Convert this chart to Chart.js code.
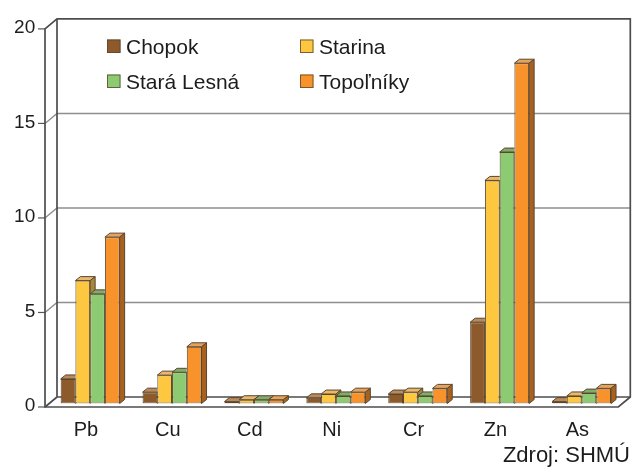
<!DOCTYPE html>
<html>
<head>
<meta charset="utf-8">
<script src="https://cdn.jsdelivr.net/npm/chart.js@4/dist/chart.umd.min.js"></script>
<style>
  html, body { margin: 0; padding: 0; background: #fff; }
  canvas { display: block; }
</style>
</head>
<body>
<canvas id="c" width="633" height="467"></canvas>
<script>
// Heavy-metal concentrations per station
const categories = ['Pb', 'Cu', 'Cd', 'Ni', 'Cr', 'Zn', 'As'];
const chopok     = [1.3, 0.6, 0.1, 0.3, 0.5, 4.3, 0.1];
const starina    = [6.5, 1.5, 0.2, 0.5, 0.6, 11.8, 0.4];
const staraLesna = [5.8, 1.65, 0.2, 0.4, 0.4, 13.3, 0.55];
const topolniky  = [8.8, 3.0, 0.2, 0.6, 0.8, 18.0, 0.8];
const seriesNames = ['Chopok', 'Starina', 'Stará Lesná', 'Topoľníky'];
const yTicks = [0, 5, 10, 15, 20];
const sourceNote = 'Zdroj: SHMÚ';

// Face colours for the pseudo-3D columns
const frontColors = ['#8d5a2b', '#fdc73f', '#8dcb72', '#f7932a'];
const topColors   = ['#b98a5c', '#e9b86c', '#80ab68', '#e4a45e'];
const sideColors  = ['#5f3c1c', '#a8883a', '#5a8848', '#a8621e'];
const edgeColor   = '#5a4630';

const FONT = '"Liberation Sans", Arial, Helvetica, sans-serif';

// Depth of the box: the bar plane sits between the front edge and the back wall
const BACK  = { dx: 7.8,  dy: -6.5 };
const FRONT = { dx: -4.2, dy: 3.5 };
const BAR_DEPTH = { dx: 5, dy: 4 };

const frame3d = {
  id: 'frame3d',
  beforeDatasetsDraw(chart) {
    const { ctx, chartArea: a, scales: { y } } = chart;
    const L = a.left, R = a.right;
    const y0 = y.getPixelForValue(0), yTop = y.getPixelForValue(20);
    ctx.save();
    ctx.lineCap = 'butt';
    // back-wall gridlines and their left-wall continuation
    ctx.strokeStyle = '#8e8e8e';
    ctx.lineWidth = 1.4;
    yTicks.filter(v => v > 0 && v < 20).forEach(v => {
      const yy = y.getPixelForValue(v);
      ctx.beginPath();
      ctx.moveTo(L + FRONT.dx, yy + FRONT.dy);
      ctx.lineTo(L + BACK.dx, yy + BACK.dy);
      ctx.lineTo(R + BACK.dx, yy + BACK.dy);
      ctx.stroke();
    });
    // tick dashes on the front axis
    ctx.strokeStyle = '#555';
    ctx.lineWidth = 1.2;
    yTicks.forEach(v => {
      const yy = y.getPixelForValue(v) + FRONT.dy;
      ctx.beginPath();
      ctx.moveTo(L + FRONT.dx - 7, yy);
      ctx.lineTo(L + FRONT.dx, yy);
      ctx.stroke();
    });
    // outer frame
    ctx.strokeStyle = '#4d4d4d';
    ctx.lineWidth = 1.7;
    ctx.beginPath();
    ctx.moveTo(L + FRONT.dx, y0 + FRONT.dy);
    ctx.lineTo(L + FRONT.dx, yTop + FRONT.dy);
    ctx.lineTo(L + BACK.dx, yTop + BACK.dy);
    ctx.lineTo(R + BACK.dx, yTop + BACK.dy);
    ctx.lineTo(R + BACK.dx, y0 + BACK.dy);
    ctx.lineTo(R + FRONT.dx, y0 + FRONT.dy);
    ctx.closePath();
    ctx.stroke();
    ctx.beginPath();
    ctx.moveTo(L + BACK.dx, yTop + BACK.dy);
    ctx.lineTo(L + BACK.dx, y0 + BACK.dy);
    ctx.lineTo(R + BACK.dx, y0 + BACK.dy);
    ctx.moveTo(L + FRONT.dx, y0 + FRONT.dy);
    ctx.lineTo(L + BACK.dx, y0 + BACK.dy);
    ctx.stroke();
    ctx.restore();
  }
};

const columns3d = {
  id: 'columns3d',
  afterDatasetsDraw(chart) {
    const { ctx } = chart;
    const metas = chart.data.datasets.map((_, i) => chart.getDatasetMeta(i));
    const n = metas.length;
    ctx.save();
    ctx.lineWidth = 1;
    ctx.strokeStyle = edgeColor;
    ctx.lineJoin = 'round';
    categories.forEach((_, j) => {
      for (let i = 0; i < n; i++) {
        const el = metas[i].data[j];
        const { x, y, base, width } = el.getProps(['x', 'y', 'base', 'width'], true);
        const l = x - width / 2, r = x + width / 2;
        ctx.save();
        // the next column's front face hides whatever lies behind it
        if (i + 1 < n) {
          const nx = metas[i + 1].data[j].getProps(['x', 'y', 'base', 'width'], true);
          ctx.beginPath();
          ctx.rect(0, 0, chart.width, chart.height);
          ctx.rect(nx.x - nx.width / 2, nx.y, nx.width, nx.base - nx.y);
          ctx.clip('evenodd');
        }
        // top face
        ctx.beginPath();
        ctx.moveTo(l, y);
        ctx.lineTo(l + BAR_DEPTH.dx, y - BAR_DEPTH.dy);
        ctx.lineTo(r + BAR_DEPTH.dx, y - BAR_DEPTH.dy);
        ctx.lineTo(r, y);
        ctx.closePath();
        ctx.fillStyle = topColors[i];
        ctx.fill();
        ctx.stroke();
        // side face
        ctx.beginPath();
        ctx.moveTo(r, y);
        ctx.lineTo(r + BAR_DEPTH.dx, y - BAR_DEPTH.dy);
        ctx.lineTo(r + BAR_DEPTH.dx, base - BAR_DEPTH.dy);
        ctx.lineTo(r, base);
        ctx.closePath();
        ctx.fillStyle = sideColors[i];
        ctx.fill();
        ctx.stroke();
        ctx.restore();
      }
    });
    ctx.restore();
  }
};

const legendAndNote = {
  id: 'legendAndNote',
  afterDraw(chart) {
    const { ctx } = chart;
    const cols = [107, 300];
    const rows = [53.5, 88.5];
    // two columns, two rows: Chopok / Starina, Stará Lesná / Topoľníky
    const slots = [[0, 0], [1, 0], [0, 1], [1, 1]];
    ctx.save();
    ctx.font = '21px ' + FONT;
    ctx.textBaseline = 'alphabetic';
    ctx.textAlign = 'left';
    chart.data.datasets.forEach((ds, i) => {
      const bx = cols[slots[i][0]], by = rows[slots[i][1]];
      ctx.fillStyle = ds.backgroundColor;
      ctx.fillRect(bx, by - 14, 13.5, 13.5);
      ctx.strokeStyle = 'rgba(90,70,48,0.8)';
      ctx.lineWidth = 1;
      ctx.strokeRect(bx + 0.5, by - 13.5, 12.5, 12.5);
      ctx.fillStyle = '#1c1c1c';
      ctx.fillText(ds.label, bx + 19, by);
    });
    ctx.font = '22px ' + FONT;
    ctx.textAlign = 'right';
    ctx.fillStyle = '#1c1c1c';
    ctx.fillText(sourceNote, 630, 461.5);
    ctx.restore();
  }
};

const seriesValues = [chopok, starina, staraLesna, topolniky];

new Chart(document.getElementById('c'), {
  type: 'bar',
  data: {
    labels: categories,
    datasets: seriesValues.map((vals, i) => ({
      label: seriesNames[i],
      data: vals,
      backgroundColor: frontColors[i],
      borderColor: edgeColor,
      borderWidth: 1,
      borderSkipped: false,
      barPercentage: 1,
      categoryPercentage: 0.72
    }))
  },
  options: {
    responsive: false,
    devicePixelRatio: 1,
    animation: false,
    layout: { padding: { top: 20.5, right: 10.5, left: 0, bottom: 0 } },
    plugins: { legend: { display: false }, tooltip: { enabled: false } },
    scales: {
      x: {
        grid: { display: false, drawTicks: false },
        border: { display: false },
        ticks: {
          font: { family: FONT, size: 20 },
          color: '#1c1c1c',
          padding: 15,
          labelOffset: FRONT.dx
        },
        afterFit(s) { s.height = 63.5; }
      },
      y: {
        min: 0,
        max: 20,
        grid: { display: false, drawTicks: false },
        border: { display: false },
        ticks: {
          font: { family: FONT, size: 19 },
          color: '#1c1c1c',
          padding: 14,
          labelOffset: FRONT.dy - 1
        },
        afterBuildTicks(s) { s.ticks = yTicks.map(v => ({ value: v })); },
        afterFit(s) { s.width = 49.2; }
      }
    }
  },
  plugins: [frame3d, columns3d, legendAndNote]
});
</script>
</body>
</html>
